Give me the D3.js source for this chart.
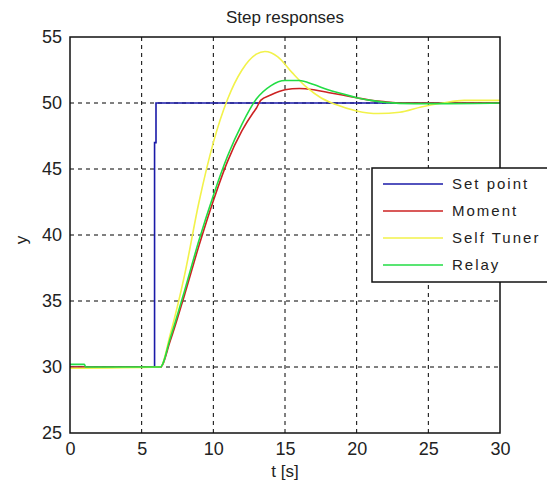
<!DOCTYPE html>
<meta charset="utf-8">
<style>
body{margin:0;background:#fff;}
svg text{font-family:"Liberation Sans",Arial,sans-serif;fill:#222;}
.grid line{stroke:#000;stroke-dasharray:4,4;stroke-width:1;}
.axis path,.axis line{display:none;}
.axis text{font-size:18px;}
</style>
<svg id="chart" width="547" height="482"></svg>
<script src="https://d3js.org/d3.v7.min.js"></script>
<script>
// data
const seriesNames = ['Set point', 'Moment', 'Self Tuner', 'Relay']
const seriesColors = ['#1a1aa8', '#cc2222', '#f2f24a', '#22dd44']

const setPointT = [0, 5.9, 5.9, 6.0, 6.0, 30]
const setPointY = [30, 30, 47, 47, 50, 50]

const momentT = [0, 6.3, 7, 8, 9, 10, 11, 12, 12.8, 13, 13.3, 14, 15, 16, 17, 18, 19, 20, 21, 22, 23, 30]
const momentY = [30, 30, 32, 35.5, 39.2, 42.6, 45.6, 47.9, 49.3, 49.6, 50.2, 50.6, 51.0, 51.1, 51.0, 50.8, 50.6, 50.4, 50.2, 50.1, 50.0, 50.0]

const tunerT = [0, 6.3, 7, 8, 9, 10, 11, 12, 13, 13.6, 14.5, 15.5, 16.5, 17.5, 18.5, 20, 21.5, 23, 24.5, 26, 27.5, 30]
const tunerY = [29.9, 30, 32.5, 37, 42.5, 47, 50.3, 52.5, 53.7, 53.9, 53.5, 52.3, 51.2, 50.4, 49.9, 49.4, 49.2, 49.3, 49.7, 50.0, 50.2, 50.2]

const relayT = [0, 1, 1.1, 6.3, 7, 8, 9, 10, 11, 12, 13, 14, 15, 16, 17, 18, 19, 20, 21, 22, 24, 26, 30]
const relayY = [30.2, 30.2, 30, 30, 32.2, 35.8, 39.6, 43, 46, 48.4, 50.3, 51.3, 51.7, 51.7, 51.4, 51.0, 50.7, 50.4, 50.2, 50.05, 49.95, 49.95, 50]

const xTicks = [0, 5, 10, 15, 20, 25, 30]
const yTicks = [25, 30, 35, 40, 45, 50, 55]

const zip = (ts, ys) => ts.map((t, i) => [t, ys[i]])
const series = [zip(setPointT, setPointY), zip(momentT, momentY), zip(tunerT, tunerY), zip(relayT, relayY)]

const svg = d3.select('#chart')
const pLeft = 70, pRight = 500, pTop = 37, pBottom = 433

const x = d3.scaleLinear().domain([0, 30]).range([pLeft, pRight])
const y = d3.scaleLinear().domain([25, 55]).range([pBottom, pTop])

// grid
const grid = svg.append('g').attr('class', 'grid')
grid.selectAll('line.v').data(xTicks.slice(1, -1)).enter().append('line')
  .attr('x1', d => x(d)).attr('x2', d => x(d)).attr('y1', pTop).attr('y2', pBottom)
grid.selectAll('line.h').data(yTicks.slice(1, -1)).enter().append('line')
  .attr('y1', d => y(d)).attr('y2', d => y(d)).attr('x1', pLeft).attr('x2', pRight)

// curves
const line = d3.line().x(d => x(d[0])).y(d => y(d[1])).curve(d3.curveMonotoneX)
const lineStep = d3.line().x(d => x(d[0])).y(d => y(d[1]))
svg.selectAll('path.curve').data(series).enter().append('path')
  .attr('class', 'curve')
  .attr('d', (d, i) => i === 0 ? lineStep(d) : line(d))
  .attr('fill', 'none')
  .attr('stroke', (d, i) => seriesColors[i])
  .attr('stroke-width', 1.6)

// frame
svg.append('rect').attr('x', pLeft).attr('y', pTop)
  .attr('width', pRight - pLeft).attr('height', pBottom - pTop)
  .attr('fill', 'none').attr('stroke', '#111').attr('stroke-width', 1.5)

// axes labels
svg.append('g').attr('class', 'axis')
  .attr('transform', `translate(0,${pBottom + 4})`)
  .call(d3.axisBottom(x).tickValues(xTicks).tickSize(0).tickPadding(5))
svg.append('g').attr('class', 'axis')
  .attr('transform', `translate(${pLeft - 8},0)`)
  .call(d3.axisLeft(y).tickValues(yTicks).tickSize(0).tickPadding(0))

svg.append('text').attr('x', (pLeft + pRight) / 2).attr('y', 477)
  .attr('text-anchor', 'middle').style('font-size', '17px').text('t [s]')
svg.append('text').attr('transform', 'translate(27,240) rotate(-90)')
  .attr('text-anchor', 'middle').style('font-size', '17px').text('y')
svg.append('text').attr('x', (pLeft + pRight) / 2).attr('y', 23)
  .attr('text-anchor', 'middle').style('font-size', '17px').text('Step responses')

// legend
const lg = svg.append('g')
lg.append('rect').attr('x', 372).attr('y', 168).attr('width', 190).attr('height', 114)
  .attr('fill', '#fff').attr('stroke', '#111').attr('stroke-width', 1.5)
const rows = lg.selectAll('g.row').data(seriesNames).enter().append('g')
  .attr('transform', (d, i) => `translate(0,${184 + i * 27})`)
rows.append('line').attr('x1', 383).attr('x2', 443)
  .attr('stroke', (d, i) => seriesColors[i]).attr('stroke-width', 1.6)
rows.append('text').attr('x', 452).attr('y', 5).style('font-size', '15px')
  .style('letter-spacing', '2px').text(d => d)
</script>
